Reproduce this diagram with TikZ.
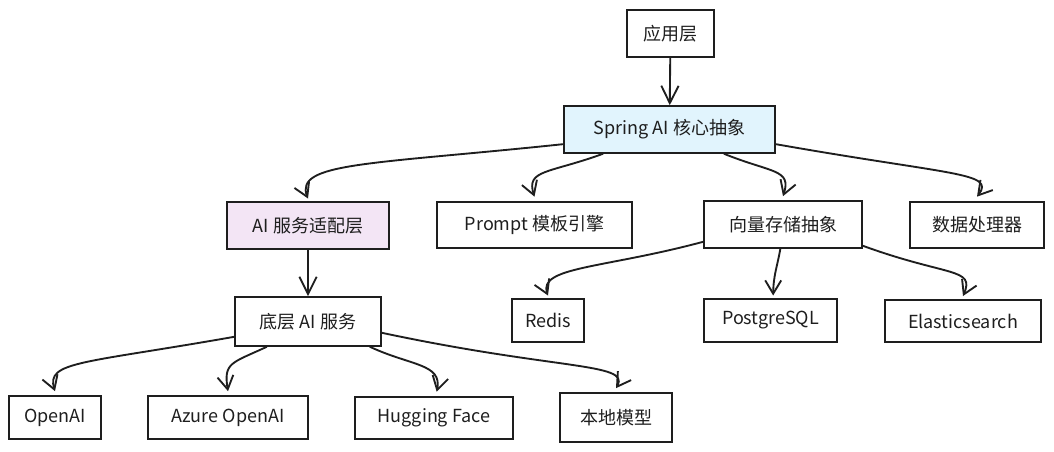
\documentclass[tikz,border=0pt]{standalone}
\usepackage{fontspec}
\setmainfont{Noto Sans CJK SC}
\usepackage{xcolor}
\usetikzlibrary{arrows.meta,bending}
\definecolor{ink}{HTML}{1E1E1E}
\definecolor{coreblue}{HTML}{E1F4FD}
\definecolor{adaptpink}{HTML}{F3E5F5}

\begin{document}
\begin{tikzpicture}[>={Straight Barb[length=10pt,width=12pt]}, x=0.75pt, y=-0.75pt,
	box/.style={draw=ink, line width=1.5pt, inner sep=0pt, minimum height=35pt, text=ink, font=\fontsize{13.5pt}{16pt}\selectfont},
	small/.style={minimum height=32pt},
	link/.style={->, draw=ink, line width=1.4pt, line cap=round},
	big/.style={>={Straight Barb[length=13pt,width=13pt]}}]
	\useasboundingbox (0,0) rectangle (1054,451);
	% top
	\node (app) at (670.5,33.5) [box, minimum width=65pt] {应用层};
	\node (core) at (669.5,129.5) [box, fill=coreblue, minimum width=158pt] {Spring AI 核心抽象};
	\draw[link, big] (app) -- (core);
	% second row
	\node (adapt) at (308,225.5) [box, fill=adaptpink, minimum width=121.5pt] {AI 服务适配层};
	\node (prompt) at (534.5,225) [box, minimum width=146pt] {Prompt 模板引擎};
	\node (vec) at (783,224.5) [box, minimum width=118.5pt] {向量存储抽象};
	\node (data) at (977,225) [box, minimum width=100.5pt] {数据处理器};
	\draw[link] ([yshift=-11pt]core.west) .. controls +(186:150pt) and +(115:30pt) .. ([yshift=2pt]adapt.north);
	\draw[link] ([xshift=-50pt]core.south) .. controls +(200:45pt) and +(110:22pt) .. ([yshift=3pt]prompt.north);
	\draw[link] ([xshift=41pt]core.south) .. controls +(338:40pt) and +(70:22pt) .. ([yshift=3pt]vec.north);
	\draw[link] ([yshift=-11pt]core.east) .. controls +(350:140pt) and +(50:24pt) .. ([yshift=3pt]data.north);
	% vector stores
	\node (redis) at (548,320.5) [box, small, minimum width=54pt] {Redis};
	\node (pg) at (770.5,320.5) [box, small, minimum width=100pt] {PostgreSQL};
	\node (es) at (963,321) [box, small, minimum width=117pt] {Elasticsearch};
	\draw[link] ([yshift=-13pt]vec.west) .. controls +(195:80pt) and +(115:24pt) .. ([yshift=2pt]redis.north);
	\draw[link] ([xshift=-2pt]vec.south) .. controls +(260:15pt) and +(90:15pt) .. ([xshift=2pt,yshift=2pt]pg.north);
	\draw[link] ([yshift=-16pt]vec.east) .. controls +(340:70pt) and +(65:24pt) .. ([yshift=2pt]es.north);
	% services
	\node (base) at (308,321.5) [box, minimum width=109.5pt, minimum height=36.5pt] {底层 AI 服务};
	\draw[link, big] (adapt) -- (base);
	\node (openai) at (55,417.5) [box, small, minimum width=69pt] {OpenAI};
	\node (azure) at (228,417.5) [box, small, minimum width=120pt] {Azure OpenAI};
	\node (hf) at (434,418) [box, small, minimum width=118.5pt] {Hugging Face};
	\node (local) at (616,417.5) [box, minimum width=84pt, minimum height=36.5pt] {本地模型};
	\draw[link] ([yshift=-11.5pt]base.west) .. controls +(190:120pt) and +(110:24pt) .. ([yshift=3pt]openai.north);
	\draw[link] ([xshift=-31pt]base.south) .. controls +(205:30pt) and +(100:22pt) .. ([yshift=3pt]azure.north);
	\draw[link] ([xshift=46.5pt]base.south) .. controls +(335:35pt) and +(75:22pt) .. ([xshift=2pt,yshift=3pt]hf.north);
	\draw[link] ([yshift=-8.5pt]base.east) .. controls +(348:140pt) and +(55:24pt) .. ([yshift=3pt]local.north);
\end{tikzpicture}
\end{document}
